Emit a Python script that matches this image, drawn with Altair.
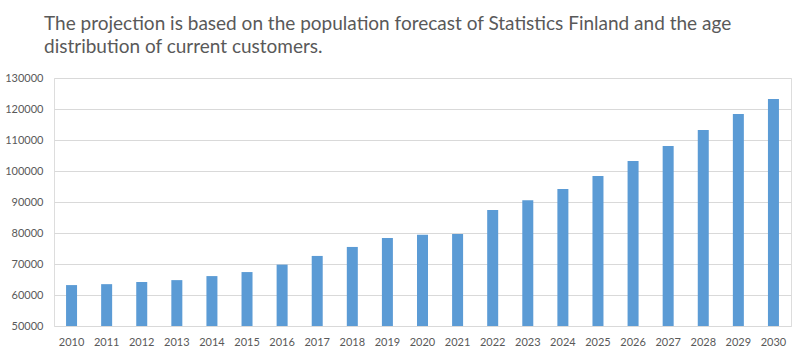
import altair as alt
import pandas as pd

years = [str(y) for y in range(2010, 2031)]
values = [63200, 63500, 64200, 64800, 66100, 67400, 69800, 72600, 75500, 78400,
          79400, 79700, 87400, 90600, 94200, 98400, 103200, 108100, 113200, 118400, 123200]
y_ticks = list(range(50000, 130001, 10000))
baseline = 50000
title_lines = [
    "The projection is based on the population forecast of Statistics Finland and the age",
    "distribution of current customers.",
]

df = pd.DataFrame({"year": years, "value": values, "base": [baseline] * len(years)})

chart = alt.Chart(df).mark_bar(color="#5B9BD5", size=11).encode(
    x=alt.X("year:N", sort=years, title=None,
            scale=alt.Scale(paddingInner=0, paddingOuter=0),
            axis=alt.Axis(labelAngle=0, ticks=False, domain=False, labelPadding=10,
                          labelFont="Lato", labelFontSize=11, labelColor="#595959")),
    y=alt.Y("value:Q", title=None,
            scale=alt.Scale(domain=[50000, 130000], nice=False, zero=False),
            axis=alt.Axis(values=y_ticks, ticks=False, domain=False, labelPadding=11,
                          format="d",
                          labelFont="Lato", labelFontSize=11, labelColor="#595959",
                          gridColor="#D9D9D9", gridWidth=1)),
    y2="base:Q",
).properties(
    width=737,
    height=248,
    autosize=alt.AutoSizeParams(type="none"),
    padding={"left": 54, "top": 78, "right": 13, "bottom": 26},
    title=alt.TitleParams(text=title_lines, anchor="start", frame="group", dx=-10,
                          fontSize=19, font="Lato", color="#595959", fontWeight="normal",
                          lineHeight=23, offset=15),
).configure_view(stroke=None).configure(background="white")

chart.save("out.html", embed_options={"renderer": "svg", "actions": False})
